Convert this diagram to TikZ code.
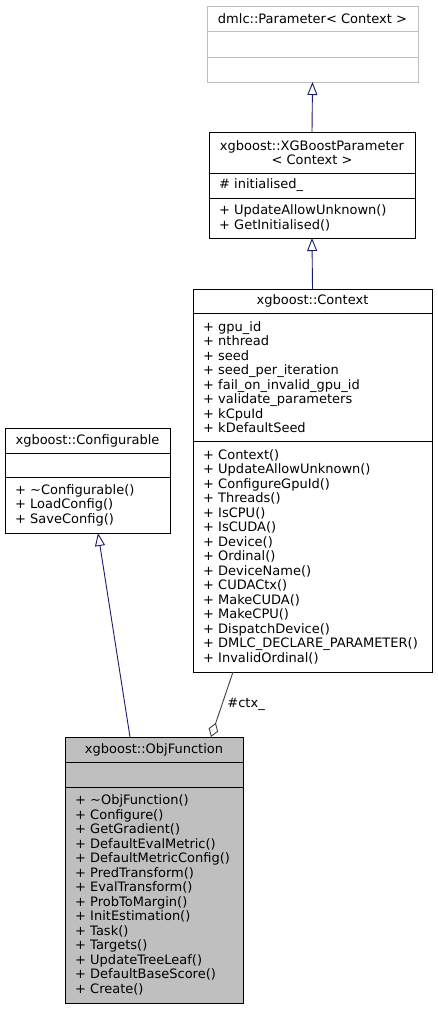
\documentclass[tikz,border=0pt]{standalone}
\usepackage{fontspec}
\setmainfont{DejaVu Sans}
\usetikzlibrary{arrows.meta}
\definecolor{inhcol}{HTML}{191970}
\definecolor{aggcol}{HTML}{404040}
\definecolor{focusfill}{HTML}{BFBFBF}
\definecolor{extborder}{HTML}{BFBFBF}
\begin{document}
\begin{tikzpicture}[font=\fontsize{13}{14.5}\selectfont,
        cls/.style={draw, line width=0.9pt, rectangle, anchor=north west, inner xsep=10pt, inner ysep=0pt, outer sep=0pt},
        clstitle/.style={cls, align=center},
        clsbody/.style={cls, align=left},
        extcls/.style={draw=extborder},
        focuscls/.style={fill=focusfill},
        inherit/.style={draw=inhcol, line width=0.9pt, -{Triangle[open, length=13pt, width=10pt]}},
        aggr/.style={draw=aggcol, line width=0.9pt, -{Diamond[open, length=15pt, width=10pt]}}]
      \useasboundingbox (0,0) rectangle (437pt,-1009pt);
      \node[clstitle, extcls, minimum width=211pt, minimum height=25pt] (paramT) at (207pt,-6pt) {dmlc::Parameter< Context >};
      \node[clsbody, extcls, text width=191pt, minimum height=26pt] (paramA) at (paramT.south west) {};
      \node[clsbody, extcls, text width=191pt, minimum height=25pt] (paramM) at (paramA.south west) {};
      \node[clstitle, minimum width=206pt, minimum height=41pt] (xgbT) at (209pt,-132pt) {xgboost::XGBoostParameter\\< Context >};
      \node[clsbody, text width=186pt, minimum height=25pt] (xgbA) at (xgbT.south west) {\# initialised\_};
      \node[clsbody, text width=186pt, minimum height=40pt] (xgbM) at (xgbA.south west) {+ UpdateAllowUnknown()\\+ GetInitialised()};
      \node[clstitle, minimum width=239pt, minimum height=24pt] (ctxT) at (193pt,-289pt) {xgboost::Context};
      \node[clsbody, text width=219pt, minimum height=128pt] (ctxA) at (ctxT.south west) {+ gpu\_id\\+ nthread\\+ seed\\+ seed\_per\_iteration\\+ fail\_on\_invalid\_gpu\_id\\+ validate\_parameters\\+ kCpuId\\+ kDefaultSeed};
      \node[clsbody, text width=219pt, minimum height=231pt] (ctxM) at (ctxA.south west) {+ Context()\\+ UpdateAllowUnknown()\\+ ConfigureGpuId()\\+ Threads()\\+ IsCPU()\\+ IsCUDA()\\+ Device()\\+ Ordinal()\\+ DeviceName()\\+ CUDACtx()\\+ MakeCUDA()\\+ MakeCPU()\\+ DispatchDevice()\\+ DMLC\_DECLARE\_PARAMETER()\\+ InvalidOrdinal()};
      \node[clstitle, minimum width=165pt, minimum height=25pt] (cfgT) at (5pt,-428pt) {xgboost::Configurable};
      \node[clsbody, text width=145pt, minimum height=24pt] (cfgA) at (cfgT.south west) {};
      \node[clsbody, text width=145pt, minimum height=56pt] (cfgM) at (cfgA.south west) {+ \textasciitilde Configurable()\\+ LoadConfig()\\+ SaveConfig()};
      \node[clstitle, focuscls, minimum width=178pt, minimum height=25pt] (objT) at (65pt,-737pt) {xgboost::ObjFunction};
      \node[clsbody, focuscls, text width=158pt, minimum height=25pt] (objA) at (objT.south west) {};
      \node[clsbody, focuscls, text width=158pt, minimum height=216pt] (objM) at (objA.south west) {+ \textasciitilde ObjFunction()\\+ Configure()\\+ GetGradient()\\+ DefaultEvalMetric()\\+ DefaultMetricConfig()\\+ PredTransform()\\+ EvalTransform()\\+ ProbToMargin()\\+ InitEstimation()\\+ Task()\\+ Targets()\\+ UpdateTreeLeaf()\\+ DefaultBaseScore()\\+ Create()};
      \draw[inherit] (xgbT.north) -- (paramM.south);
      \draw[inherit] (ctxT.north) -- (xgbM.south);
      \draw[inherit] ([xshift=-24pt]objT.north) -- ([xshift=10.5pt]cfgM.south);
      \draw[aggr] ([xshift=-79.5pt]ctxM.south) -- node[right, inner sep=5pt] (ctxlbl) {\#ctx\_} ([xshift=57pt]objT.north);
    \end{tikzpicture}
\end{document}
